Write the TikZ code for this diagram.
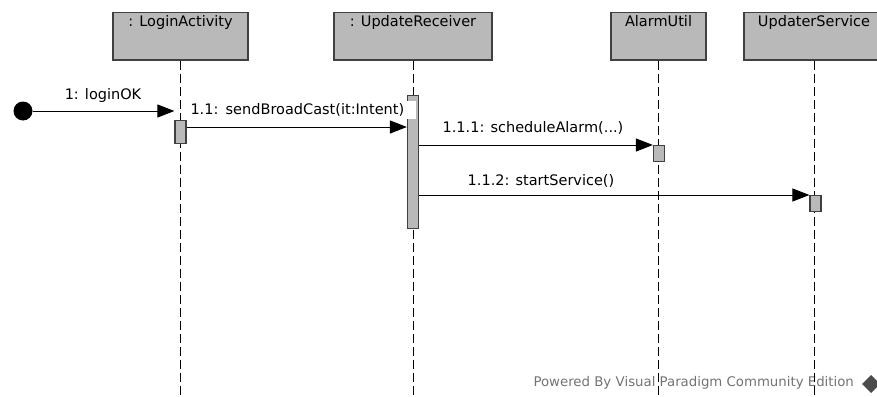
\documentclass[tikz,border=0pt]{standalone}
\usepackage{fontspec}
\setmainfont{DejaVu Sans}
\usetikzlibrary{arrows.meta,positioning}
\definecolor{objgray}{RGB}{185,185,185}
\definecolor{edgegray}{RGB}{64,64,64}
\tikzstyle{object} = [rectangle, draw=edgegray, fill=objgray, line width=1.2pt, minimum height=47pt, inner ysep=3.5pt, text height=10.5pt, text depth=30pt, anchor=north, align=center, font=\fontsize{14.5}{16}\selectfont]
\tikzstyle{lifeline} = [draw=black, line width=1pt, dash pattern=on 9pt off 4pt]
\tikzstyle{actbar} = [rectangle, draw=edgegray, fill=objgray, line width=1.2pt, minimum width=11pt, inner sep=0pt, anchor=north]
\tikzstyle{msg} = [draw=black, line width=1pt, -{Triangle[length=17pt,width=13pt]}]
\tikzstyle{msglabel} = [font=\fontsize{14.5}{16}\selectfont, inner sep=1pt]

\begin{document}
\begin{tikzpicture}[x=1pt,y=-1pt]
	\useasboundingbox (0,0) rectangle (877,396);
	% watermark
	\node[font=\fontsize{13.3}{15}\selectfont, text=black!55, anchor=west] (powered) at (530,383) {Powered By\,\,Visual Paradigm Community Edition};
	\fill[black!70] (871,375) -- (880,384) -- (871,393) -- (862,384) -- cycle;
	% objects
	\node[object, minimum width=135pt] (login) at (180.5,12) {: LoginActivity};
	\node[object, minimum width=158pt] (receiver) at (413,12) {: UpdateReceiver};
	\node[object, minimum width=95pt] (alarm) at (658.5,12) {AlarmUtil};
	\node[object, minimum width=140pt] (service) at (814,12) {UpdaterService};
	% lifelines
	\foreach \obj in {login,receiver,alarm,service}{
		\coordinate (\obj-end) at (\obj.south |- 0,396);
		\draw[lifeline] (\obj.south) -- (\obj-end);
	}
	% activations
	\node[actbar, minimum height=23pt] (act1) at (180.5,120) {};
	\node[actbar, minimum height=133pt] (act2) at (413,95) {};
	\node[actbar, minimum height=16pt] (act3) at (659,145) {};
	\node[actbar, minimum height=16pt] (act4) at (815.5,195) {};
	% messages
	\node[circle, fill=black, minimum size=19pt, inner sep=0pt] (start) at (23,111) {};
	\draw[msg] (start) -- (start -| act1.west);
	\node[msglabel] (m1) at (103,95) {1: loginOK};
	\draw[msg] (act1.east |- 0,127) -- (act2.west |- 0,127);
	\node[msglabel, fill=white, minimum width=228pt, minimum height=18pt, text width=222pt] (m11) at (301.5,110) {1.1: sendBroadCast(it:Intent)};
	\draw[msg] (act2.east |- act3.north) -- (act3.north west);
	\node[msglabel] (m111) at (533,128) {1.1.1: scheduleAlarm(...)};
	\draw[msg] (act2.east |- act4.north) -- (act4.north west);
	\node[msglabel] (m112) at (541,181) {1.1.2: startService()};
\end{tikzpicture}
\end{document}
